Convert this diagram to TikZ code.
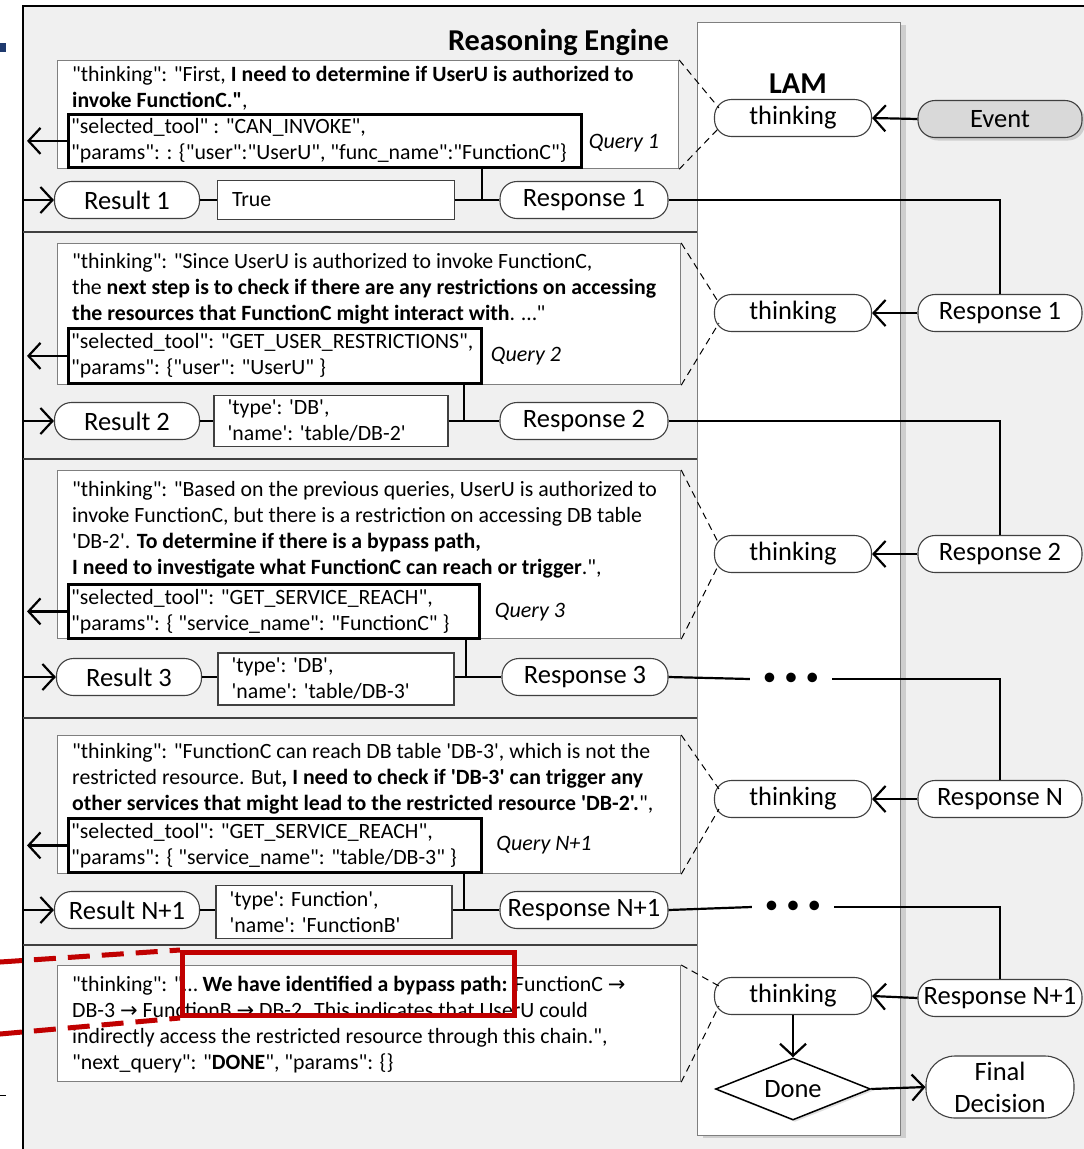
\documentclass[tikz,border=0pt]{standalone}
\usepackage{fontspec}
\setmainfont{Carlito}[Ligatures=TeXOff]
\newfontfamily\arrowfont{DejaVu Sans}
\usetikzlibrary{positioning,shapes.geometric,arrows.meta,shadows}
\definecolor{bggray}{HTML}{F0F0F0}
\definecolor{boxline}{HTML}{7F7F7F}
\definecolor{pillline}{HTML}{404040}
\definecolor{eventfill}{HTML}{D9D9D9}
\definecolor{redmark}{HTML}{C00000}
\definecolor{navyblip}{HTML}{1F3A6E}
\newcommand{\rarr}{{\arrowfont\fontsize{21}{26}\selectfont →}}

\begin{document}
\begin{tikzpicture}[x=1pt,y=-1pt,
		txt/.style={inner sep=0pt, align=left, font={\fontsize{21.8}{26}\selectfont}},
		thinkbox/.style={draw=boxline, fill=white, line width=1.2pt, inner sep=0pt, anchor=north west},
		querybox/.style={draw=black, line width=2.8pt, inner sep=0pt, anchor=north west},
		valbox/.style={draw=pillline, fill=white, line width=1.2pt, inner sep=0pt},
		pill/.style={draw=pillline, fill=white, line width=1.1pt, rounded corners=17pt, minimum height=37pt, inner sep=1pt, font={\fontsize{26.5}{30}\selectfont}},
		title/.style={inner sep=0pt, font={\bfseries\fontsize{30.3}{34}\selectfont}},
		qlabel/.style={inner sep=0pt, font={\itshape\fontsize{22}{26}\selectfont}},
		dots/.style={inner sep=0pt, minimum width=82pt, font={\fontsize{27}{30}\selectfont}},
		conn/.style={line width=2.2pt},
		arr/.style={conn, -{Straight Barb[length=12pt,width=26pt,line width=2.2pt]}},
		guide/.style={line width=1pt, dash pattern=on 7pt off 5pt},
		hilite/.style={draw=redmark, line width=5pt, inner sep=0pt, anchor=north west},
		zoomline/.style={draw=redmark, line width=5pt, dash pattern=on 22pt off 12pt}
		]
		\clip (0,0) rectangle (1084,1149);
		\useasboundingbox (0,0) rectangle (1084,1149);
		\draw[line width=1.5pt, fill=bggray] (23,6) rectangle (1140,1190);
		\fill[navyblip] (0,43) rectangle (6,52);
		\draw[line width=1pt] (0,1095) -- (6,1095);
		\foreach \yy in {232,459,718,945}
			\draw[line width=1.2pt, draw=pillline] (23,\yy) -- (697,\yy);
		\node[draw=boxline, fill=white, line width=1.2pt, anchor=north west, minimum width=203pt, minimum height=1113pt,
			drop shadow={shadow xshift=5pt, shadow yshift=-2pt, opacity=0.3}] (lam) at (697,22) {};
		\node[title] (lamlbl) at (798,84) {LAM};
		\node[title, anchor=east] (relbl) at (669,42) {Reasoning Engine};
		\coordinate (edgeL) at (27,0);
		\coordinate (frameL) at (23,0);
		
		% query 1
		\node[thinkbox, minimum width=621pt, minimum height=108pt] (tb1) at (57,60) {};
		\node[txt, anchor=north west, below right=6pt and 15pt of tb1.north west] (tt1) {"thinking": "First, \textbf{I need to determine if UserU is authorized to}\\
			\textbf{invoke FunctionC."},};
		\node[querybox, minimum width=513pt, minimum height=53pt] (q1) at (67,113) {};
		\node[txt, right=4pt of q1.west] (qt1) {"selected\_tool" : "CAN\_INVOKE",\\
			"params":  : \{"user":"UserU", "func\_name":"FunctionC"\}};
		\node[qlabel] (ql1) at (624,143) {Query 1};
		\node[pill, minimum width=145pt] (res1) at (127,200) {Result 1};
		\node[valbox, minimum width=237pt, minimum height=39pt] (val1) at (336,200) {};
		\node[txt, right=15pt of val1.west] (vt1) {True};
		\node[pill, minimum width=168pt] (resp1) at (584,200) {Response 1};
		\coordinate (j1) at (482,166);
		\node[pill, minimum width=157pt] (th1) at (793,118) {thinking};
		\node[pill, minimum width=164pt, fill=eventfill,
			drop shadow={shadow xshift=3pt, shadow yshift=-3pt, opacity=0.3}] (ev) at (1000,119) {Event};
		
		% query 2
		\node[thinkbox, minimum width=623pt, minimum height=141pt] (tb2) at (57,243) {};
		\node[txt, anchor=north west, below right=10pt and 15pt of tb2.north west] (tt2) {"thinking": "Since UserU is authorized to invoke FunctionC,\\
			the \textbf{next step is to check if there are any restrictions on accessing}\\
			\textbf{the resources that FunctionC might interact with}. …"};
		\node[querybox, minimum width=413pt, minimum height=55pt] (q2) at (67,327) {};
		\node[txt, right=4pt of q2.west] (qt2) {"selected\_tool": "GET\_USER\_RESTRICTIONS",\\
			"params": \{"user": "UserU" \}};
		\node[qlabel] (ql2) at (526,356) {Query 2};
		\node[pill, minimum width=145pt] (res2) at (127,421) {Result 2};
		\node[valbox, minimum width=234pt, minimum height=51pt] (val2) at (331,421) {};
		\node[txt, right=14pt of val2.west] (vt2) {'type': 'DB',\\ 'name': 'table/DB-2'};
		\node[pill, minimum width=168pt] (resp2) at (584,421) {Response 2};
		\coordinate (j2) at (464,382);
		\node[pill, minimum width=157pt] (th2) at (793,313) {thinking};
		\node[pill, minimum width=164pt] (rr1) at (1000,313) {Response 1};
		
		% query 3
		\node[thinkbox, minimum width=623pt, minimum height=168pt] (tb3) at (57,470) {};
		\node[txt, anchor=north west, below right=11pt and 15pt of tb3.north west] (tt3) {"thinking": "Based on the previous queries, UserU is authorized to\\
			invoke FunctionC, but there is a restriction on accessing DB table\\
			'DB-2'. \textbf{To determine if there is a bypass path,}\\
			\textbf{I need to investigate what FunctionC can reach or trigger}.",};
		\node[querybox, minimum width=411pt, minimum height=54pt] (q3) at (67,583) {};
		\node[txt, right=4pt of q3.west] (qt3) {"selected\_tool": "GET\_SERVICE\_REACH",\\
			"params": \{ "service\_name": "FunctionC" \}};
		\node[qlabel] (ql3) at (530,612) {Query 3};
		\node[pill, minimum width=145pt] (res3) at (129,677) {Result 3};
		\node[valbox, minimum width=236pt, minimum height=52pt] (val3) at (336,679) {};
		\node[txt, right=14pt of val3.west] (vt3) {'type': 'DB',\\ 'name': 'table/DB-3'};
		\node[pill, minimum width=166pt] (resp3) at (585,677) {Response 3};
		\coordinate (j3) at (466,637);
		\node[pill, minimum width=157pt] (th3) at (793,554) {thinking};
		\node[pill, minimum width=164pt] (rr2) at (1000,554) {Response 2};
		\node[dots] (dots1) at (791,679) {•\hspace{8pt}•\hspace{8pt}•};
		
		% query N+1
		\node[thinkbox, minimum width=623pt, minimum height=138pt] (tb4) at (57,735) {};
		\node[txt, anchor=north west, below right=8pt and 15pt of tb4.north west] (tt4) {"thinking": "FunctionC can reach DB table 'DB-3', which is not the\\
			restricted resource. But\textbf{, I need to check if 'DB-3' can trigger any}\\
			\textbf{other services that might lead to the restricted resource 'DB-2'.}",};
		\node[querybox, minimum width=413pt, minimum height=54pt] (q4) at (67,817) {};
		\node[txt, right=4pt of q4.west] (qt4) {"selected\_tool": "GET\_SERVICE\_REACH",\\
			"params": \{ "service\_name": "table/DB-3" \}};
		\node[qlabel] (ql4) at (544,845) {Query N+1};
		\node[pill, minimum width=145pt] (res4) at (127,910) {Result N+1};
		\node[valbox, minimum width=236pt, minimum height=53pt] (val4) at (334,912) {};
		\node[txt, right=14pt of val4.west] (vt4) {'type': Function',\\ 'name': 'FunctionB'};
		\node[pill, minimum width=168pt] (resp4) at (584,910) {Response N+1};
		\coordinate (j4) at (464,871);
		\node[pill, minimum width=157pt] (th4) at (793,799) {thinking};
		\node[pill, minimum width=164pt] (rrN) at (1000,799) {Response N};
		\node[dots] (dots2) at (793,907) {•\hspace{8pt}•\hspace{8pt}•};
		
		% done
		\node[thinkbox, minimum width=623pt, minimum height=116pt] (tb5) at (57,965) {};
		\node[txt, anchor=north west, below right=11pt and 15pt of tb5.north west] (tt5) {"thinking": "… \textbf{We have identified a bypass path:} FunctionC \rarr\\
			DB-3 \rarr{} FunctionB \rarr{} DB-2. This indicates that UserU could\\
			indirectly access the restricted resource through this chain.",\\
			"next\_query": "\textbf{DONE}", "params": \{\}};
		\node[pill, minimum width=157pt] (th5) at (793,996) {thinking};
		\node[pill, minimum width=164pt] (rr4) at (1000,998) {Response N+1};
		\node[diamond, draw=black, line width=1.5pt, fill=white, minimum width=155pt, minimum height=62pt, inner sep=0pt,
			shape aspect=2.5, font={\fontsize{26.5}{30}\selectfont},
			drop shadow={shadow xshift=2pt, shadow yshift=-2pt, opacity=0.25}] (done) at (793,1089) {Done};
		\node[pill, minimum width=148pt, minimum height=62pt, rounded corners=29pt, align=center,
			font={\fontsize{26.5}{32}\selectfont}] (final) at (1000,1087) {Final\\Decision};
		
		\foreach \n in {1,2,3,4}
			\draw[arr] (q\n.west) -- (q\n.west -| edgeL);
		\foreach \n in {1,2,3,4} {
			\draw[arr] (res\n.west -| frameL) -- (res\n.west);
			\draw[conn] (res\n.east) -- (val\n.west |- res\n.east);
			\draw[conn] (val\n.east |- resp\n.west) -- (resp\n.west);
			\draw[conn] (j\n) -- (j\n |- resp\n.west);
		}
		\foreach \n in {1,2,3,4,5} {
			\draw[guide] (tb\n.north east) -- ([xshift=5pt,yshift=10pt]th\n.west);
			\draw[guide] (tb\n.south east) -- ([xshift=5pt,yshift=-10pt]th\n.west);
		}
		\draw[arr] (ev.west) -- (th1.east);
		\draw[arr] (rr1.west) -- (th2.east);
		\draw[arr] (rr2.west) -- (th3.east);
		\draw[arr] (rrN.west) -- (th4.east);
		\draw[arr] (rr4.west) -- (th5.east);
		\draw[conn] (resp1.east) -| (rr1.north);
		\draw[conn] (resp2.east) -| (rr2.north);
		\draw[conn] (resp3.east) -- (dots1.west);
		\draw[conn] (dots1.east) -| (rrN.north);
		\draw[conn] (resp4.east) -- (dots2.west);
		\draw[conn] (dots2.east) -| (rr4.north);
		\draw[arr] (th5.south) -- (done.north);
		\draw[arr] (done.east) -- (final.west);
		
		\node[hilite, minimum width=332pt, minimum height=63pt] (hl) at (180,950) {};
		\coordinate (zl1) at (0,962);
		\coordinate (zl2) at (0,1034);
		\draw[zoomline] (zl1) -- (hl.north west);
		\draw[zoomline] (zl2) -- (hl.south west);
	\end{tikzpicture}
\end{document}
